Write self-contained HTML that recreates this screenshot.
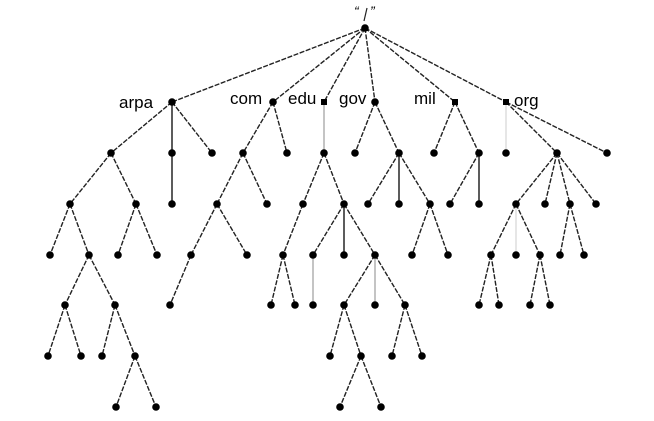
<!DOCTYPE html>
<html><head><meta charset="utf-8"><style>
html,body{margin:0;padding:0;background:#fff;}
svg{display:block;}
text{font-family:"Liberation Sans",sans-serif;fill:#000;}
circle{r:3.8px;}
</style></head><body>
<svg width="654" height="421" viewBox="0 0 654 421" xmlns="http://www.w3.org/2000/svg">
<g stroke="#222" stroke-width="1.4" stroke-dasharray="5,1.5" fill="none">
<line x1="365" y1="28" x2="172" y2="102"/><line x1="365" y1="28" x2="273" y2="102"/>
<line x1="365" y1="28" x2="324" y2="102"/><line x1="365" y1="28" x2="375" y2="102"/>
<line x1="365" y1="28" x2="455" y2="102"/><line x1="365" y1="28" x2="506" y2="102"/>
<line x1="172" y1="102" x2="111" y2="153"/><line x1="172" y1="102" x2="212" y2="153"/>
<line x1="111" y1="153" x2="70" y2="204"/><line x1="111" y1="153" x2="136" y2="204"/>
<line x1="70" y1="204" x2="50" y2="255"/><line x1="70" y1="204" x2="89" y2="255"/>
<line x1="136" y1="204" x2="118" y2="255"/><line x1="136" y1="204" x2="157" y2="255"/>
<line x1="89" y1="255" x2="65" y2="305"/><line x1="89" y1="255" x2="115" y2="305"/>
<line x1="65" y1="305" x2="48" y2="356"/><line x1="65" y1="305" x2="81" y2="356"/>
<line x1="115" y1="305" x2="102" y2="356"/><line x1="115" y1="305" x2="135" y2="356"/>
<line x1="135" y1="356" x2="116" y2="407"/><line x1="135" y1="356" x2="156" y2="407"/>
<line x1="273" y1="102" x2="243" y2="153"/><line x1="273" y1="102" x2="287" y2="153"/>
<line x1="243" y1="153" x2="217" y2="204"/><line x1="243" y1="153" x2="267" y2="204"/>
<line x1="217" y1="204" x2="191" y2="255"/><line x1="217" y1="204" x2="247" y2="255"/>
<line x1="191" y1="255" x2="170" y2="305"/>
<line x1="324" y1="153" x2="303" y2="204"/><line x1="324" y1="153" x2="344" y2="204"/>
<line x1="303" y1="204" x2="283" y2="255"/>
<line x1="283" y1="255" x2="271" y2="305"/><line x1="283" y1="255" x2="295" y2="305"/>
<line x1="344" y1="204" x2="313" y2="255"/><line x1="344" y1="204" x2="375" y2="255"/>
<line x1="375" y1="255" x2="344" y2="305"/><line x1="375" y1="255" x2="405" y2="305"/>
<line x1="344" y1="305" x2="330" y2="356"/><line x1="344" y1="305" x2="361" y2="356"/>
<line x1="405" y1="305" x2="392" y2="356"/><line x1="405" y1="305" x2="422" y2="356"/>
<line x1="361" y1="356" x2="340" y2="407"/><line x1="361" y1="356" x2="381" y2="407"/>
<line x1="375" y1="102" x2="355" y2="153"/><line x1="375" y1="102" x2="399" y2="153"/>
<line x1="399" y1="153" x2="368" y2="204"/><line x1="399" y1="153" x2="430" y2="204"/>
<line x1="430" y1="204" x2="412" y2="255"/><line x1="430" y1="204" x2="448" y2="255"/>
<line x1="455" y1="102" x2="434" y2="153"/><line x1="455" y1="102" x2="479" y2="153"/>
<line x1="479" y1="153" x2="450" y2="204"/>
<line x1="506" y1="102" x2="557" y2="153"/><line x1="506" y1="102" x2="607" y2="153"/>
<line x1="557" y1="153" x2="516" y2="204"/><line x1="557" y1="153" x2="545" y2="204"/>
<line x1="557" y1="153" x2="570" y2="204"/><line x1="557" y1="153" x2="596" y2="204"/>
<line x1="516" y1="204" x2="491" y2="255"/><line x1="516" y1="204" x2="540" y2="255"/>
<line x1="570" y1="204" x2="560" y2="255"/><line x1="570" y1="204" x2="584" y2="255"/>
<line x1="491" y1="255" x2="479" y2="305"/><line x1="491" y1="255" x2="499" y2="305"/>
<line x1="540" y1="255" x2="530" y2="305"/><line x1="540" y1="255" x2="550" y2="305"/>
</g>
<line x1="364" y1="21" x2="367" y2="8" stroke="#222" stroke-width="1.2"/>
<g stroke="#333" stroke-width="1.6">
<line x1="172" y1="102" x2="172" y2="204"/>
<line x1="344" y1="204" x2="344" y2="255"/>
<line x1="399" y1="153" x2="399" y2="204"/>
<line x1="479" y1="153" x2="479" y2="204"/>
</g>
<g stroke="#888" stroke-width="1">
<line x1="324" y1="102" x2="324" y2="153"/>
<line x1="313" y1="255" x2="313" y2="305"/>
<line x1="375" y1="255" x2="375" y2="305"/>
</g>
<g stroke="#ccc" stroke-width="1">
<line x1="506" y1="102" x2="506" y2="153"/>
<line x1="516" y1="204" x2="516" y2="255"/>
</g>
<g fill="#000">
<circle cx="365" cy="28" r="3.8"/>
<circle cx="172" cy="102" r="3.8"/><circle cx="273" cy="102" r="3.8"/><rect x="321" y="99" width="6" height="6"/><circle cx="375" cy="102" r="3.8"/><rect x="452" y="99" width="6" height="6"/><rect x="503" y="99" width="6" height="6"/>
<circle cx="111" cy="153" r="3.8"/><circle cx="172" cy="153" r="3.8"/><circle cx="212" cy="153" r="3.8"/><circle cx="243" cy="153" r="3.8"/><circle cx="287" cy="153" r="3.8"/><circle cx="324" cy="153" r="3.8"/><circle cx="355" cy="153" r="3.8"/><circle cx="399" cy="153" r="3.8"/><circle cx="434" cy="153" r="3.8"/><circle cx="479" cy="153" r="3.8"/><circle cx="506" cy="153" r="3.8"/><circle cx="557" cy="153" r="3.8"/><circle cx="607" cy="153" r="3.8"/>
<circle cx="70" cy="204" r="3.8"/><circle cx="136" cy="204" r="3.8"/><circle cx="172" cy="204" r="3.8"/><circle cx="217" cy="204" r="3.8"/><circle cx="267" cy="204" r="3.8"/><circle cx="303" cy="204" r="3.8"/><circle cx="344" cy="204" r="3.8"/><circle cx="368" cy="204" r="3.8"/><circle cx="399" cy="204" r="3.8"/><circle cx="430" cy="204" r="3.8"/><circle cx="450" cy="204" r="3.8"/><circle cx="479" cy="204" r="3.8"/><circle cx="516" cy="204" r="3.8"/><circle cx="545" cy="204" r="3.8"/><circle cx="570" cy="204" r="3.8"/><circle cx="596" cy="204" r="3.8"/>
<circle cx="50" cy="255" r="3.8"/><circle cx="89" cy="255" r="3.8"/><circle cx="118" cy="255" r="3.8"/><circle cx="157" cy="255" r="3.8"/><circle cx="191" cy="255" r="3.8"/><circle cx="247" cy="255" r="3.8"/><circle cx="283" cy="255" r="3.8"/><circle cx="313" cy="255" r="3.8"/><circle cx="344" cy="255" r="3.8"/><circle cx="375" cy="255" r="3.8"/><circle cx="412" cy="255" r="3.8"/><circle cx="448" cy="255" r="3.8"/><circle cx="491" cy="255" r="3.8"/><circle cx="516" cy="255" r="3.8"/><circle cx="540" cy="255" r="3.8"/><circle cx="560" cy="255" r="3.8"/><circle cx="584" cy="255" r="3.8"/>
<circle cx="65" cy="305" r="3.8"/><circle cx="115" cy="305" r="3.8"/><circle cx="170" cy="305" r="3.8"/><circle cx="271" cy="305" r="3.8"/><circle cx="295" cy="305" r="3.8"/><circle cx="313" cy="305" r="3.8"/><circle cx="344" cy="305" r="3.8"/><circle cx="375" cy="305" r="3.8"/><circle cx="405" cy="305" r="3.8"/><circle cx="479" cy="305" r="3.8"/><circle cx="499" cy="305" r="3.8"/><circle cx="530" cy="305" r="3.8"/><circle cx="550" cy="305" r="3.8"/>
<circle cx="48" cy="356" r="3.8"/><circle cx="81" cy="356" r="3.8"/><circle cx="102" cy="356" r="3.8"/><circle cx="135" cy="356" r="3.8"/><circle cx="330" cy="356" r="3.8"/><circle cx="361" cy="356" r="3.8"/><circle cx="392" cy="356" r="3.8"/><circle cx="422" cy="356" r="3.8"/>
<circle cx="116" cy="407" r="3.8"/><circle cx="156" cy="407" r="3.8"/><circle cx="340" cy="407" r="3.8"/><circle cx="381" cy="407" r="3.8"/>
</g>
<g font-size="17">
<text x="119" y="108">arpa</text>
<text x="230" y="104">com</text>
<text x="288" y="104">edu</text>
<text x="339" y="104">gov</text>
<text x="414" y="104">mil</text>
<text x="514" y="106">org</text>
</g>
<text x="354" y="16" font-size="14" font-family="Liberation Serif" font-style="italic">“</text>
<text x="370" y="16" font-size="14" font-family="Liberation Serif" font-style="italic">”</text>
</svg>
</body></html>
